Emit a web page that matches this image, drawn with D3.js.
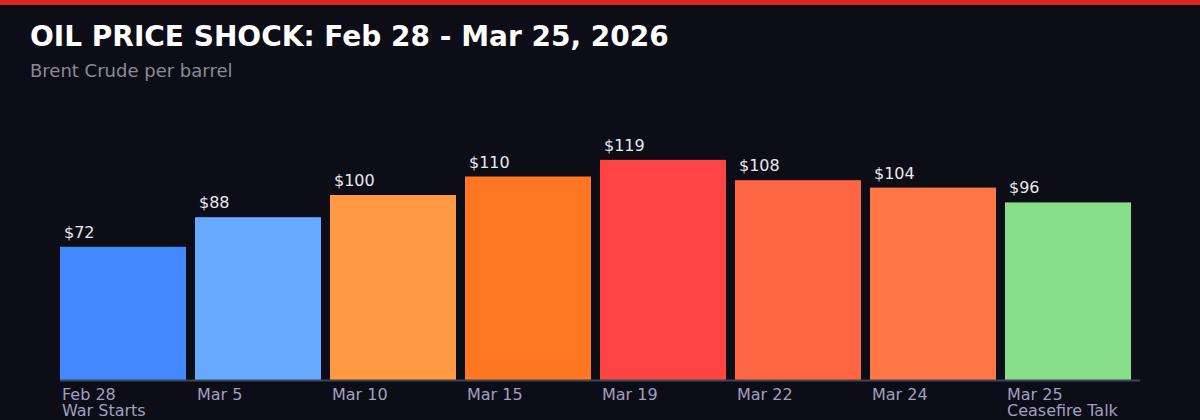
<!DOCTYPE html>
<html lang="en">
<head>
    <meta charset="UTF-8">
    <title>oil price shock</title>
    <script src="https://d3js.org/d3.v7.min.js"></script>
    <style>
        body { margin: 0; background: #0d0d17; }
        text { font-family: "DejaVu Sans", sans-serif; }
    </style>
</head>
<body>
    <script>

    // data
    const dates = ["Feb 28", "Mar 5", "Mar 10", "Mar 15", "Mar 19", "Mar 22", "Mar 24", "Mar 25"]
    const notes = ["War Starts", "", "", "", "", "", "", "Ceasefire Talk"]
    const prices = [72, 88, 100, 110, 119, 108, 104, 96]
    const barColors = ["#4488ff", "#66aaff", "#ff9944", "#ff7722", "#ff4444", "#ff6644", "#ff7744", "#88dd88"]

    const W = 1200, H = 420

    var svg = d3.select("body")
        .append("svg")
        .attr("width", W)
        .attr("height", H)

    svg.append("rect")
        .attr("width", W)
        .attr("height", H)
        .attr("fill", "#0d0d17")

    // red strip at the top
    svg.append("rect")
        .attr("width", W)
        .attr("height", 5)
        .attr("fill", "#dc2626")

    svg.append("text")
        .attr("x", 30)
        .attr("y", 46)
        .attr("fill", "#ffffff")
        .style("font-size", "28px")
        .style("font-weight", "bold")
        .text("OIL PRICE SHOCK: Feb 28 - Mar 25, 2026")

    svg.append("text")
        .attr("x", 30)
        .attr("y", 77)
        .attr("fill", "#8a8a9a")
        .style("font-size", "18px")
        .text("Brent Crude per barrel")

    //scales
    const x = d3.scaleBand()
        .domain(dates)
        .range([60, 1140])
        .padding(0)

    const y = d3.scaleLinear()
        .domain([0, 140])
        .range([380, 121])

    const gap = 9
    const bw = x.bandwidth() - gap

    var bars = svg.selectAll(".bar")
        .data(prices)
        .enter()
        .append("g")
        .attr("class", "bar")

    bars.append("rect")
        .attr("x", (d, i) => x(dates[i]))
        .attr("y", d => y(d))
        .attr("width", bw)
        .attr("height", d => y(0) - y(d))
        .attr("fill", (d, i) => barColors[i])

    bars.append("text")
        .attr("x", (d, i) => x(dates[i]) + 4)
        .attr("y", d => y(d) - 9)
        .attr("fill", "#e8e8ee")
        .style("font-size", "16px")
        .text(d => "$" + d)

    // axis line
    svg.append("line")
        .attr("x1", 60)
        .attr("x2", 1140)
        .attr("y1", 380.5)
        .attr("y2", 380.5)
        .attr("stroke", "#3a4656")
        .attr("stroke-width", 2)

    var labels = svg.selectAll(".xlab")
        .data(dates)
        .enter()
        .append("text")
        .attr("class", "xlab")
        .attr("x", d => x(d) + 2)
        .attr("y", 400)
        .attr("fill", "#a0a0bf")
        .style("font-size", "16px")

    labels.append("tspan")
        .text(d => d)

    labels.append("tspan")
        .attr("x", d => x(d) + 2)
        .attr("dy", 16)
        .text((d, i) => notes[i])

    </script>
</body>
</html>
